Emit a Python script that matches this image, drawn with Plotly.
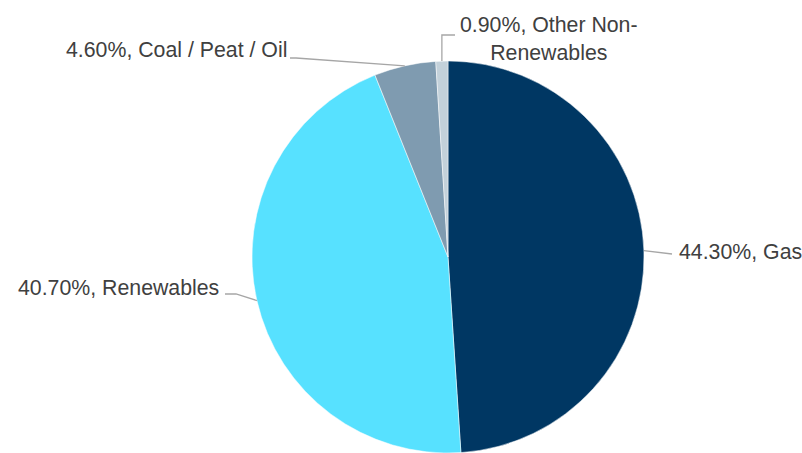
import math
import plotly.graph_objects as go

# Generation mix shares (%)
labels = ["Gas", "Renewables", "Coal / Peat / Oil", "Other Non-Renewables"]
values = [44.3, 40.7, 4.6, 0.9]
label_texts = ["44.30%, Gas", "40.70%, Renewables", "4.60%, Coal / Peat / Oil",
               "0.90%, Other Non-<br>Renewables"]
colors = ["#003763", "#57E1FF", "#7F9BB0", "#C3D1DA"]

W, H = 802, 453
FONT = dict(family="Liberation Sans, Arial, sans-serif", size=21.3, color="#404040")
LINE_COLOR = "#A6A6A6"

# Pie placement in pixels (circle centre and radius)
cx, cy, r = 448, 257, 196
dom_x = [(cx - r) / W, (cx + r) / W]
dom_y = [1 - (cy + r) / H, 1 - (cy - r) / H]


def px(x, y):
    return x / W, 1 - y / H


# Edge point at the middle of each slice (clockwise from 12 o'clock)
total = sum(values)
edge = []
acc = 0.0
for v in values:
    mid = (acc + v / 2) / total * 2 * math.pi
    edge.append((cx + r * math.sin(mid), cy - r * math.cos(mid)))
    acc += v

fig = go.Figure(go.Pie(
    labels=labels,
    values=values,
    sort=False,
    direction="clockwise",
    rotation=0,
    textinfo="none",
    hoverinfo="label+percent",
    marker=dict(colors=colors, line=dict(color="white", width=0.5)),
    domain=dict(x=dom_x, y=dom_y),
    showlegend=False,
))

# Leader lines: slice edge -> elbow -> label
elbows = [
    [(672, 254)],
    [(236, 294), (225, 294)],
    [(296, 58), (290, 58)],
    [(edge[3][0], 35), (455, 35)],
]
shapes = []
for (ex, ey), pts in zip(edge, elbows):
    path_pts = [(ex, ey)] + pts
    d = ""
    for i, (x, y) in enumerate(path_pts):
        X, Y = px(x, y)
        d += ("M" if i == 0 else "L") + f"{X:.5f},{Y:.5f} "
    shapes.append(dict(type="path", xref="paper", yref="paper", path=d,
                       line=dict(color=LINE_COLOR, width=1.3)))

# Label anchors
anchors = [
    (677, 252, "left", "middle", "left"),
    (221, 288, "right", "middle", "left"),
    (289, 50, "right", "middle", "left"),
    (549, 39, "center", "middle", "center"),
]
annotations = []
for text, (x, y, xa, ya, align) in zip(label_texts, anchors):
    X, Y = px(x, y)
    annotations.append(dict(x=X, y=Y, xref="paper", yref="paper", text=text,
                            showarrow=False, xanchor=xa, yanchor=ya, align=align,
                            font=FONT))

fig.update_layout(
    width=W, height=H,
    margin=dict(l=0, r=0, t=0, b=0),
    paper_bgcolor="white",
    plot_bgcolor="white",
    shapes=shapes,
    annotations=annotations,
)

fig.write_html("out.html")
